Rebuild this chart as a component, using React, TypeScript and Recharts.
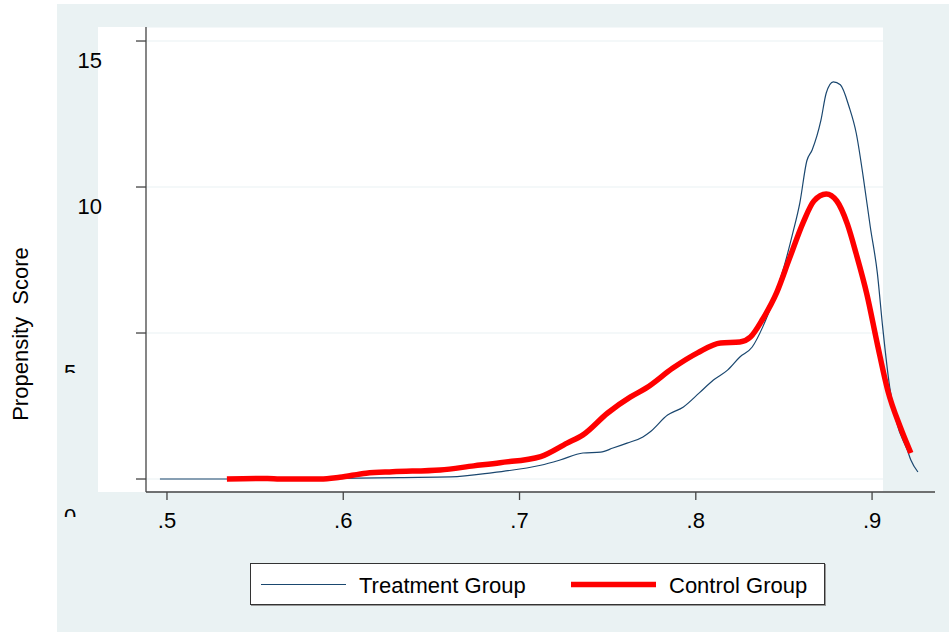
import React from 'react';
import { LineChart, Line, XAxis, YAxis, CartesianGrid, Label } from 'recharts';

// Kernel density estimates (x = propensity score, y = density)
const treatmentX = [0.496, 0.547, 0.598, 0.632, 0.661, 0.685, 0.712, 0.723, 0.736, 0.746, 0.753, 0.761, 0.770, 0.774, 0.784, 0.793, 0.802, 0.810, 0.818, 0.825, 0.832, 0.838, 0.844, 0.850, 0.855, 0.859, 0.863, 0.866, 0.871, 0.874, 0.878, 0.882, 0.887, 0.891, 0.895, 0.899, 0.903, 0.906, 0.910, 0.914, 0.920, 0.922, 0.926];
const treatmentY = [0.0, 0.0, 0.02, 0.05, 0.07, 0.22, 0.47, 0.65, 0.89, 0.92, 1.06, 1.23, 1.44, 1.61, 2.19, 2.47, 2.95, 3.39, 3.73, 4.18, 4.52, 5.21, 6.13, 7.26, 8.42, 9.45, 10.9, 11.27, 12.29, 13.22, 13.6, 13.5, 12.74, 11.85, 10.34, 8.63, 7.05, 5.21, 3.15, 1.92, 0.99, 0.65, 0.24];

const controlX = [0.534, 0.557, 0.564, 0.587, 0.598, 0.613, 0.628, 0.655, 0.674, 0.689, 0.712, 0.727, 0.736, 0.750, 0.763, 0.772, 0.787, 0.801, 0.814, 0.825, 0.831, 0.838, 0.846, 0.853, 0.861, 0.867, 0.874, 0.880, 0.886, 0.891, 0.897, 0.903, 0.909, 0.916, 0.922];
const controlY = [0.0, 0.02, 0.0, 0.0, 0.06, 0.2, 0.25, 0.31, 0.45, 0.56, 0.77, 1.23, 1.51, 2.26, 2.81, 3.12, 3.8, 4.32, 4.66, 4.69, 4.86, 5.48, 6.4, 7.53, 8.8, 9.52, 9.76, 9.52, 8.73, 7.71, 6.34, 4.62, 3.01, 1.78, 0.89];

const xTicks = [0.5, 0.6, 0.7, 0.8, 0.9];
const yTicks = [0, 5, 10, 15];
const seriesNames = ['Treatment Group', 'Control Group'];
const yTitle = 'Propensity  Score';

const treatmentData = treatmentX.map((x, i) => ({ x, y: treatmentY[i] }));
const controlData = controlX.map((x, i) => ({ x, y: controlY[i] }));

const FONT = '"Liberation Sans", Arial, sans-serif';
const NAVY = '#1a476f';
const RED = '#ff0000';
const BG = '#eaf2f3';

const YTick = (props: any) => {
  const { x, y, payload } = props;
  const v = payload.value;
  if (v >= 10) {
    return (
      <text x={x} y={y + 27} textAnchor="end" fontSize={22} fontFamily={FONT} fill="#000">
        {String(v)}
      </text>
    );
  }
  const id = `clip-ytick-${v}`;
  const base = v === 5 ? 47 : 45;
  const cut = v === 5 ? 40 : 38;
  return (
    <g>
      <defs>
        <clipPath id={id}>
          <rect x={x - 50} y={y + 20} width={60} height={cut - 20} />
        </clipPath>
      </defs>
      <text x={x - 32} y={y + base} textAnchor="middle" fontSize={22} fontFamily={FONT} fill="#000" clipPath={`url(#${id})`}>
        {String(v)}
      </text>
    </g>
  );
};

export default function App() {
  return (
    <div style={{ position: 'absolute', left: 0, top: 0, width: 949, height: 632, background: '#fff', fontFamily: FONT }}>
      <div style={{ position: 'absolute', left: 57, top: 4, width: 892, height: 628, background: BG }} />
      <div style={{ position: 'absolute', left: 98, top: 27, width: 785, height: 465, background: '#fff' }} />
      <div style={{ position: 'absolute', left: 0, top: 0 }}>
        <LineChart width={949} height={632} margin={{ top: 27, right: 14, bottom: 0, left: 0 }}>
          <CartesianGrid vertical={false} stroke={BG} strokeWidth={1.2} />
          <XAxis
            type="number"
            dataKey="x"
            domain={[0.4881, 0.9357]}
            ticks={xTicks}
            allowDataOverflow
            height={140}
            tickSize={8}
            tickMargin={12}
            stroke="#444"
            strokeWidth={1.3}
            tick={{ fontSize: 22, fill: '#000', fontFamily: FONT }}
            tickFormatter={(v: number) => '.' + Math.round(v * 10)}
          />
          <YAxis
            type="number"
            dataKey="y"
            domain={[-0.445, 15.48]}
            ticks={yTicks}
            allowDataOverflow
            width={146}
            tickSize={10}
            tickMargin={34}
            stroke="#444"
            strokeWidth={1.3}
            tick={<YTick />}
          >
            <Label
              content={() => (
                <text
                  x={28}
                  y={334}
                  transform="rotate(-90 28 334)"
                  textAnchor="middle"
                  fontSize={22}
                  fontFamily={FONT}
                  fill="#000"
                  style={{ whiteSpace: 'pre' }}
                >
                  {yTitle}
                </text>
              )}
            />
          </YAxis>
          <Line
            data={treatmentData}
            dataKey="y"
            type="monotone"
            stroke={NAVY}
            strokeWidth={1.2}
            dot={false}
            isAnimationActive={false}
            name={seriesNames[0]}
          />
          <Line
            data={controlData}
            dataKey="y"
            type="monotone"
            stroke={RED}
            strokeWidth={5.5}
            strokeLinecap="butt"
            strokeLinejoin="round"
            dot={false}
            isAnimationActive={false}
            name={seriesNames[1]}
          />
        </LineChart>
      </div>
      <div
        style={{
          position: 'absolute',
          left: 250,
          top: 563,
          width: 573,
          height: 40,
          background: '#fff',
          border: '1.3px solid #333',
          boxShadow: '1px 1px 0 #999',
        }}
      >
        <svg width={573} height={40} style={{ position: 'absolute', left: 0, top: 0 }}>
          <line x1={10} x2={95} y1={20.5} y2={20.5} stroke={NAVY} strokeWidth={1.2} />
          <text x={108} y={28.5} fontSize={22} fontFamily={FONT} fill="#000">{seriesNames[0]}</text>
          <line x1={320} x2={405} y1={20.5} y2={20.5} stroke={RED} strokeWidth={5.5} />
          <text x={418} y={28.5} fontSize={22} fontFamily={FONT} fill="#000">{seriesNames[1]}</text>
        </svg>
      </div>
    </div>
  );
}
